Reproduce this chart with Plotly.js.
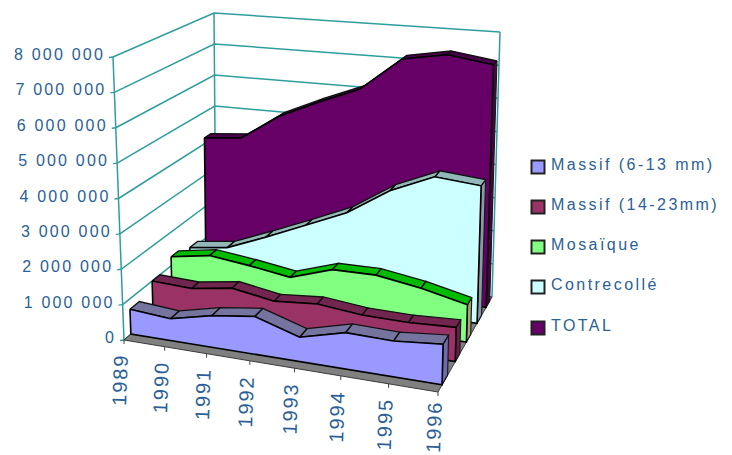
<!DOCTYPE html>
<html>
<head>
<meta charset="utf-8">
<script src="https://cdn.plot.ly/plotly-3.0.1.min.js"></script>
<style>
  html, body { margin: 0; padding: 0; background: #fff; }
  #chart { width: 732px; height: 455px; }
  /* Wide tracking: year ticks, value ticks, legend rows. */
  g.annotation text { letter-spacing: 1.9px; }
  .scatterlayer .trace:nth-last-child(2) .textpoint text { letter-spacing: 2.2px; }
  .scatterlayer .trace:nth-last-child(1) .textpoint text { letter-spacing: 2.45px; }
</style>
</head>
<body>
<div id="chart"></div>
<script>
// Wood flooring output by type, 1989-1996, as a 3-D area chart (values in millions).
var years = ['1989', '1990', '1991', '1992', '1993', '1994', '1995', '1996'];
var valueTicks = [0, 1, 2, 3, 4, 5, 6, 7, 8];
var valueTickLabels = ['0', '1 000 000', '2 000 000', '3 000 000', '4 000 000',
                       '5 000 000', '6 000 000', '7 000 000', '8 000 000'];

var seriesNames = ['Massif (6-13 mm)', 'Massif (14-23mm)', 'Mosaïque', 'Contrecollé', 'TOTAL'];
var massifThin  = [0.71, 0.62, 0.89, 1.05, 0.67, 0.99, 0.96, 1.08];
var massifThick = [1.00, 0.95, 1.13, 0.93, 1.03, 0.90, 0.88, 0.94];
var mosaique    = [1.27, 1.46, 1.32, 1.14, 1.53, 1.54, 1.34, 1.05];
var contrecolle = [1.10, 1.25, 1.72, 2.22, 2.75, 3.55, 4.10, 3.98];
var total       = [4.19, 4.30, 5.09, 5.64, 6.14, 7.17, 7.40, 7.20];

var faceColors = ['#9999ff', '#993366', '#80ff80', '#ccffff', '#660066'];
var topColors  = ['#74749e', '#72254f', '#00bb00', '#93b8b8', '#4a004a'];
var sideColors = ['#6c6ca8', '#6a1f48', '#a8a878', '#8a9aa8', '#4a004a'];

// Depth slots of the five ribbons on the floor (0 = front, 1 = back).
var depthStart = [0.065, 0.285, 0.485, 0.69, 0.875];
var depthEnd   = [0.155, 0.365, 0.565, 0.78, 0.95];

// Scene box in page pixels: floor and ceiling corners, front-left, front-right, back-right, back-left.
var floorBox = [[124, 340], [438, 392], [492, 297], [216, 261]];
var ceilBox  = [[113, 57], [445, 88], [500, 32], [214, 13]];
var maxValue = 8;

function homography(p) {
  var dx1 = p[1][0] - p[2][0], dx2 = p[3][0] - p[2][0], sx = p[0][0] - p[1][0] + p[2][0] - p[3][0];
  var dy1 = p[1][1] - p[2][1], dy2 = p[3][1] - p[2][1], sy = p[0][1] - p[1][1] + p[2][1] - p[3][1];
  var det = dx1 * dy2 - dx2 * dy1;
  var g = (sx * dy2 - dx2 * sy) / det, h = (dx1 * sy - sx * dy1) / det;
  var a = p[1][0] - p[0][0] + g * p[1][0], b = p[3][0] - p[0][0] + h * p[3][0];
  var d = p[1][1] - p[0][1] + g * p[1][1], e = p[3][1] - p[0][1] + h * p[3][1];
  return function (s, t) {
    var w = g * s + h * t + 1;
    return [(a * s + b * t + p[0][0]) / w, (d * s + e * t + p[0][1]) / w];
  };
}
var floorAt = homography(floorBox), ceilAt = homography(ceilBox);

// s: position along the years, t: depth, v: value.
function project(s, t, v) {
  var f = floorAt(s, t), c = ceilAt(s, t), k = v / maxValue;
  return [f[0] + (c[0] - f[0]) * k, f[1] + (c[1] - f[1]) * k];
}
function yearPos(i) { return i / (years.length - 1); }

function polygons(list, fill, line, width) {
  var xs = [], ys = [];
  list.forEach(function (poly) {
    poly.forEach(function (p) { xs.push(p[0]); ys.push(p[1]); });
    xs.push(poly[0][0], null); ys.push(poly[0][1], null);
  });
  return { type: 'scatter', mode: 'lines', x: xs, y: ys, fill: 'toself', fillcolor: fill,
           line: { color: line, width: width === undefined ? 1.5 : width, shape: 'linear' },
           hoverinfo: 'skip', showlegend: false };
}
function strokes(list, color, width) {
  var xs = [], ys = [];
  list.forEach(function (seg) {
    seg.forEach(function (p) { xs.push(p[0]); ys.push(p[1]); });
    xs.push(null); ys.push(null);
  });
  return { type: 'scatter', mode: 'lines', x: xs, y: ys,
           line: { color: color, width: width }, hoverinfo: 'skip', showlegend: false };
}

var traces = [];

// Walls: gridlines on the left and back planes, then the corner uprights.
var gridColor = '#2f9d9d';
var gridSegs = [];
valueTicks.forEach(function (v) {
  gridSegs.push([project(0, 0, v), project(0, 1, v), project(1, 1, v)]);
  var a = project(0, 0, v);
  gridSegs.push([[a[0] - 4, a[1] + 0.5], a]);
});
gridSegs.push([project(0, 0, 0), project(0, 0, maxValue)]);
gridSegs.push([project(0, 1, 0), project(0, 1, maxValue)]);
gridSegs.push([project(1, 1, 0), project(1, 1, maxValue)]);
traces.push(strokes(gridSegs, gridColor, 1.5));

// Floor.
traces.push(polygons([[project(0, 0, 0), project(1, 0, 0), project(1, 1, 0), project(0, 1, 0)]],
                     '#808080', '#3a3a3a', 1));

// Ribbons, back to front.
var seriesValues = [massifThin, massifThick, mosaique, contrecolle, total];
for (var n = seriesValues.length - 1; n >= 0; n--) {
  var vals = seriesValues[n], t0 = depthStart[n], t1 = depthEnd[n];
  var last = vals.length - 1, tops = [];
  traces.push(polygons([[project(1, t0, 0), project(1, t1, 0),
                         project(1, t1, vals[last]), project(1, t0, vals[last])]],
                       sideColors[n], '#1a1a1a', 1.2));
  for (var i = 0; i < last; i++) {
    tops.push([project(yearPos(i), t0, vals[i]), project(yearPos(i + 1), t0, vals[i + 1]),
               project(yearPos(i + 1), t1, vals[i + 1]), project(yearPos(i), t1, vals[i])]);
  }
  traces.push(polygons(tops, topColors[n], '#111111', 1.3));
  var face = [];
  vals.forEach(function (v, j) { face.push(project(yearPos(j), t0, v)); });
  face.push(project(1, t0, 0), project(0, t0, 0));
  traces.push(polygons([face], faceColors[n], '#000000', 1.6));
}

// Year ticks along the front floor edge.
var tickSegs = years.map(function (y, i) {
  var p = project(yearPos(i), 0, 0);
  return [p, [p[0], p[1] + 4]];
});
traces.push(strokes(tickSegs, '#404040', 1));

// Legend swatches.
var legendX = 538, legendRowY = [167, 207, 247, 287, 328];
traces.push({ type: 'scatter', mode: 'markers', x: legendRowY.map(function () { return legendX; }), y: legendRowY,
              marker: { symbol: 'square', size: 13, color: faceColors, line: { color: '#222222', width: 2 } },
              hoverinfo: 'skip', showlegend: false });

var textColor = '#2b5f96';
var textFamily = 'Liberation Sans, Arial, sans-serif';

// Value tick labels, right-aligned against the front upright.
var tickAnchors = valueTicks.map(function (v) { return project(0, 0, v); });
traces.push({ type: 'scatter', mode: 'text',
              x: tickAnchors.map(function (p) { return p[0] - 8; }),
              y: tickAnchors.map(function (p) { return p[1] - 1; }),
              text: valueTickLabels, textposition: 'middle left',
              textfont: { family: textFamily, size: 16, color: textColor },
              hoverinfo: 'skip', showlegend: false, cliponaxis: false });

// Legend rows, left-aligned beside the swatches.
traces.push({ type: 'scatter', mode: 'text',
              x: legendRowY.map(function () { return 551; }),
              y: legendRowY.map(function (y) { return y - 1; }),
              text: seriesNames, textposition: 'middle right',
              textfont: { family: textFamily, size: 16, color: textColor },
              hoverinfo: 'skip', showlegend: false, cliponaxis: false });

// Year labels stand nearly upright below the ticks.
var notes = years.map(function (y, i) {
  var p = project(yearPos(i), 0, 0);
  return { x: p[0] - 4, y: Math.min(p[1] + 40, 427), xref: 'x', yref: 'y', xanchor: 'center', yanchor: 'middle',
           showarrow: false, textangle: -88, text: y,
           font: { family: textFamily, size: 20, color: textColor } };
});

Plotly.newPlot('chart', traces, {
  width: 732, height: 455,
  margin: { l: 0, r: 0, t: 0, b: 0 },
  paper_bgcolor: '#ffffff', plot_bgcolor: '#ffffff',
  xaxis: { range: [0, 732], visible: false, fixedrange: true },
  yaxis: { range: [455, 0], visible: false, fixedrange: true },
  showlegend: false,
  annotations: notes
}, { displayModeBar: false, staticPlot: true });
</script>
</body>
</html>
